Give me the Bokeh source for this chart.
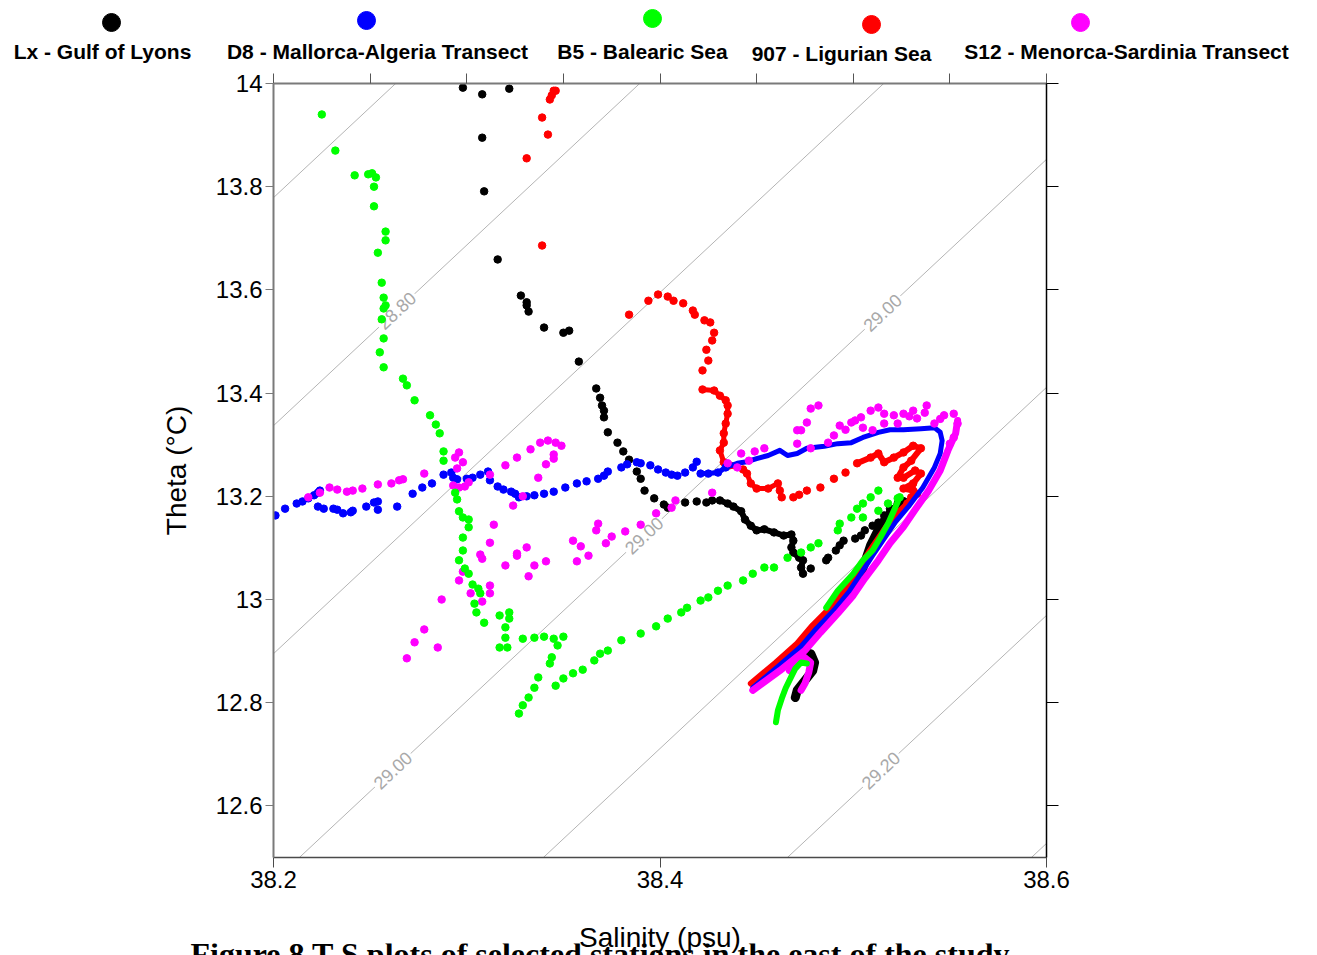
import math
from bokeh.plotting import figure
from bokeh.models import Range1d, LinearAxis, FixedTicker
from bokeh.layouts import column
from bokeh.embed import file_html
from bokeh.resources import INLINE
from bokeh.core.properties import value

FONT = "Liberation Sans"

# ---------------- series names / colours ----------------
series_names = ["Lx - Gulf of Lyons", "D8 - Mallorca-Algeria Transect", "B5 - Balearic Sea",
                "907 - Ligurian Sea", "S12 - Menorca-Sardinia Transect"]
series_colors = ["#000000", "#0000ff", "#00ff00", "#ff0000", "#ff00ff"]

# ---------------- axis ticks ----------------
x_ticks = [38.2, 38.4, 38.6]
x_tick_labels = ["38.2", "38.4", "38.6"]
x_top_ticks = [38.2, 38.25, 38.3, 38.35, 38.4, 38.45, 38.5, 38.55, 38.6]
y_ticks = [12.6, 12.8, 13.0, 13.2, 13.4, 13.6, 13.8, 14.0]
y_tick_labels = ["12.6", "12.8", "13", "13.2", "13.4", "13.6", "13.8", "14"]

# ---------------- isopycnals (linear equation of state fit) ----------------
sigma_levels = [28.7, 28.8, 28.9, 29.0, 29.1, 29.2, 29.3]
SIG_REF, S_REF, T_REF, A_S, A_T = 29.0, 38.642, 14.0, 0.792, 0.2263
iso_label_levels = [28.8, 29.0, 29.0, 29.0, 29.2]
iso_label_theta = [13.56, 13.556, 13.124, 12.669, 12.669]
iso_label_text = ["28.80", "29.00", "29.00", "29.00", "29.20"]

# ---------------- Lx - Gulf of Lyons (black) ----------------
lx_sal = [38.298, 38.308, 38.322, 38.308, 38.309, 38.316, 38.328, 38.331, 38.331, 38.332,
          38.340, 38.350, 38.353, 38.358, 38.367, 38.369, 38.370, 38.371, 38.371, 38.373,
          38.378, 38.381, 38.384, 38.388, 38.390, 38.392, 38.397, 38.402, 38.404, 38.413,
          38.419, 38.424, 38.427, 38.431, 38.435, 38.438, 38.442, 38.444, 38.447, 38.450,
          38.454, 38.459, 38.464, 38.468, 38.469, 38.468, 38.469, 38.472, 38.474, 38.473,
          38.474, 38.478, 38.486, 38.487, 38.491, 38.493, 38.495, 38.501, 38.504, 38.506,
          38.510, 38.513, 38.516, 38.519, 38.523, 38.526]
lx_theta = [13.992, 13.979, 13.990, 13.895, 13.791, 13.659, 13.589, 13.576, 13.570, 13.558,
            13.527, 13.517, 13.521, 13.461, 13.409, 13.391, 13.376, 13.366, 13.353, 13.324,
            13.304, 13.287, 13.271, 13.248, 13.234, 13.211, 13.196, 13.184, 13.178, 13.188,
            13.190, 13.188, 13.192, 13.192, 13.186, 13.180, 13.171, 13.155, 13.143, 13.134,
            13.136, 13.130, 13.124, 13.126, 13.114, 13.101, 13.091, 13.081, 13.076, 13.062,
            13.050, 13.060, 13.076, 13.081, 13.095, 13.105, 13.114, 13.118, 13.124, 13.134,
            13.143, 13.149, 13.163, 13.176, 13.186, 13.190]
lx_lines_sal = [
    [38.431, 38.435, 38.438, 38.442, 38.444, 38.447, 38.450, 38.454, 38.459, 38.464,
     38.468, 38.469, 38.468, 38.469, 38.472, 38.474, 38.473, 38.474],
    [38.526, 38.519, 38.514, 38.509, 38.504, 38.498, 38.490, 38.481, 38.473, 38.471,
     38.478, 38.480, 38.479, 38.475, 38.471, 38.470],
]
lx_lines_theta = [
    [13.192, 13.186, 13.180, 13.171, 13.155, 13.143, 13.134, 13.136, 13.130, 13.124,
     13.126, 13.114, 13.101, 13.091, 13.081, 13.076, 13.062, 13.050],
    [13.190, 13.167, 13.143, 13.105, 13.050, 13.016, 12.979, 12.944, 12.909, 12.897,
     12.895, 12.878, 12.862, 12.843, 12.824, 12.810],
]

# ---------------- 907 - Ligurian Sea (red) ----------------
lig_sal = [38.345, 38.344, 38.343, 38.346, 38.339, 38.342, 38.331, 38.339, 38.384, 38.394,
           38.399, 38.404, 38.407, 38.412, 38.417, 38.418, 38.423, 38.426, 38.428, 38.427,
           38.424, 38.425, 38.422, 38.422, 38.428, 38.431, 38.434, 38.435, 38.435, 38.434,
           38.433, 38.433, 38.431, 38.433, 38.436, 38.443, 38.445, 38.447, 38.450, 38.456,
           38.461, 38.462, 38.463, 38.469, 38.472, 38.476, 38.483, 38.490, 38.496, 38.502,
           38.509, 38.513, 38.516, 38.521, 38.526, 38.531, 38.535, 38.530, 38.526, 38.523,
           38.526, 38.532, 38.535, 38.531, 38.526, 38.531, 38.533, 38.530, 38.528]
lig_theta = [13.986, 13.977, 13.969, 13.986, 13.934, 13.901, 13.855, 13.686, 13.552, 13.579,
             13.591, 13.587, 13.579, 13.574, 13.560, 13.552, 13.541, 13.537, 13.517, 13.502,
             13.484, 13.463, 13.444, 13.407, 13.405, 13.395, 13.386, 13.376, 13.360, 13.341,
             13.322, 13.304, 13.289, 13.266, 13.260, 13.252, 13.244, 13.225, 13.215, 13.215,
             13.225, 13.211, 13.198, 13.198, 13.203, 13.211, 13.217, 13.234, 13.246, 13.264,
             13.275, 13.283, 13.266, 13.275, 13.285, 13.298, 13.293, 13.269, 13.256, 13.236,
             13.236, 13.250, 13.244, 13.225, 13.215, 13.211, 13.205, 13.198, 13.186]
lig_lines_sal = [
    [38.422, 38.428, 38.431, 38.434, 38.435, 38.435, 38.434, 38.433, 38.433, 38.431,
     38.433, 38.436, 38.443, 38.445, 38.447, 38.450, 38.456, 38.461, 38.462, 38.463],
    [38.502, 38.509, 38.513, 38.516, 38.521, 38.526, 38.531, 38.535, 38.530, 38.526,
     38.523, 38.526, 38.532, 38.535, 38.531, 38.526, 38.531, 38.533, 38.530, 38.528,
     38.520, 38.514, 38.508, 38.502, 38.496, 38.488, 38.479, 38.471, 38.460, 38.447],
]
lig_lines_theta = [
    [13.407, 13.405, 13.395, 13.386, 13.376, 13.360, 13.341, 13.322, 13.304, 13.289,
     13.266, 13.260, 13.252, 13.244, 13.225, 13.215, 13.215, 13.225, 13.211, 13.198],
    [13.264, 13.275, 13.283, 13.266, 13.275, 13.285, 13.298, 13.293, 13.269, 13.256,
     13.236, 13.236, 13.250, 13.244, 13.225, 13.215, 13.211, 13.205, 13.198, 13.186,
     13.157, 13.124, 13.091, 13.056, 13.021, 12.984, 12.950, 12.915, 12.878, 12.837],
]

# ---------------- D8 - Mallorca-Algeria Transect (blue) ----------------
d8_sal = [38.201, 38.206, 38.212, 38.215, 38.218, 38.221, 38.223, 38.224, 38.223, 38.226,
          38.231, 38.233, 38.236, 38.240, 38.241, 38.248, 38.252, 38.254, 38.254, 38.264,
          38.272, 38.277, 38.282, 38.288, 38.292, 38.293, 38.295, 38.300, 38.303, 38.307,
          38.311, 38.312, 38.316, 38.319, 38.323, 38.325, 38.327, 38.331, 38.335, 38.340,
          38.345, 38.351, 38.357, 38.362, 38.368, 38.371, 38.373, 38.380, 38.383, 38.388,
          38.390, 38.395, 38.399, 38.403, 38.406, 38.409, 38.413, 38.417, 38.419, 38.421,
          38.425, 38.430, 38.434]
d8_theta = [13.163, 13.176, 13.186, 13.190, 13.196, 13.202, 13.207, 13.211, 13.180, 13.176,
            13.176, 13.174, 13.167, 13.169, 13.172, 13.180, 13.188, 13.190, 13.174, 13.180,
            13.205, 13.217, 13.225, 13.242, 13.246, 13.236, 13.233, 13.234, 13.236, 13.242,
            13.248, 13.231, 13.219, 13.213, 13.209, 13.205, 13.198, 13.200, 13.202, 13.205,
            13.209, 13.217, 13.225, 13.229, 13.234, 13.240, 13.248, 13.256, 13.262, 13.266,
            13.264, 13.260, 13.252, 13.246, 13.242, 13.240, 13.246, 13.256, 13.267, 13.244,
            13.244, 13.246, 13.256]
d8_lines_sal = [
    [38.421, 38.425, 38.430, 38.434, 38.440, 38.445, 38.450, 38.456, 38.462, 38.466,
     38.471, 38.476, 38.485, 38.492, 38.499, 38.505, 38.513, 38.519, 38.526, 38.535,
     38.542, 38.545, 38.546, 38.545, 38.542, 38.536, 38.529, 38.522, 38.516, 38.510,
     38.504, 38.498, 38.490, 38.481, 38.473, 38.461, 38.448],
]
d8_lines_theta = [
    [13.244, 13.244, 13.246, 13.256, 13.264, 13.267, 13.273, 13.279, 13.289, 13.279,
     13.283, 13.293, 13.297, 13.302, 13.304, 13.314, 13.324, 13.329, 13.329, 13.331,
     13.333, 13.324, 13.308, 13.283, 13.256, 13.217, 13.182, 13.151, 13.118, 13.085,
     13.050, 13.016, 12.979, 12.944, 12.909, 12.870, 12.829],
]

# ---------------- B5 - Balearic Sea (green) ----------------
b5_sal = [38.225, 38.232, 38.242, 38.249, 38.251, 38.253, 38.252, 38.252, 38.258, 38.258,
          38.254, 38.256, 38.257, 38.258, 38.257, 38.256, 38.257, 38.255, 38.257, 38.267,
          38.269, 38.273, 38.281, 38.284, 38.286, 38.288, 38.288, 38.294, 38.295, 38.296,
          38.298, 38.301, 38.301, 38.298, 38.298, 38.296, 38.299, 38.301, 38.303, 38.306,
          38.307, 38.304, 38.305, 38.309, 38.317, 38.322, 38.322, 38.320, 38.320, 38.317,
          38.321, 38.329, 38.335, 38.340, 38.345, 38.350, 38.347, 38.344, 38.343, 38.337,
          38.335, 38.332, 38.329, 38.327, 38.346, 38.350, 38.355, 38.360, 38.366, 38.369,
          38.373, 38.380, 38.390, 38.398, 38.404, 38.411, 38.414, 38.421, 38.425, 38.430,
          38.435, 38.443, 38.448, 38.454, 38.459, 38.466, 38.473, 38.478, 38.482, 38.492,
          38.493, 38.499, 38.502, 38.505, 38.509, 38.513, 38.505, 38.513, 38.518, 38.523,
          38.524]
b5_theta = [13.940, 13.870, 13.822, 13.824, 13.826, 13.818, 13.800, 13.762, 13.713, 13.696,
            13.672, 13.614, 13.585, 13.570, 13.564, 13.543, 13.506, 13.479, 13.450, 13.428,
            13.415, 13.386, 13.357, 13.339, 13.322, 13.287, 13.269, 13.207, 13.194, 13.171,
            13.159, 13.155, 13.140, 13.120, 13.095, 13.076, 13.060, 13.050, 13.029, 13.021,
            13.012, 12.992, 12.975, 12.955, 12.969, 12.975, 12.963, 12.946, 12.926, 12.907,
            12.907, 12.924, 12.926, 12.928, 12.924, 12.928, 12.911, 12.888, 12.876, 12.849,
            12.829, 12.810, 12.795, 12.779, 12.833, 12.847, 12.857, 12.864, 12.882, 12.895,
            12.901, 12.921, 12.934, 12.948, 12.963, 12.975, 12.984, 12.998, 13.004, 13.017,
            13.027, 13.037, 13.050, 13.062, 13.062, 13.081, 13.091, 13.101, 13.109, 13.134,
            13.147, 13.159, 13.176, 13.186, 13.198, 13.211, 13.159, 13.172, 13.186, 13.196,
            13.198]
b5_lines_sal = [
    [38.524, 38.521, 38.518, 38.514, 38.510, 38.505, 38.500, 38.492, 38.486],
    [38.476, 38.473, 38.470, 38.468, 38.465, 38.463, 38.461, 38.460],
]
b5_lines_theta = [
    [13.198, 13.172, 13.147, 13.120, 13.095, 13.076, 13.050, 13.017, 12.984],
    [12.876, 12.878, 12.866, 12.851, 12.828, 12.808, 12.785, 12.762],
]

# ---------------- S12 - Menorca-Sardinia Transect (magenta) ----------------
s12_sal = [38.218, 38.224, 38.229, 38.233, 38.238, 38.241, 38.246, 38.254, 38.261, 38.265,
           38.267, 38.278, 38.294, 38.296, 38.298, 38.295, 38.293, 38.296, 38.299, 38.301,
           38.312, 38.320, 38.326, 38.333, 38.338, 38.342, 38.346, 38.349, 38.345, 38.345,
           38.341, 38.337, 38.329, 38.324, 38.314, 38.312, 38.307, 38.308, 38.298, 38.296,
           38.302, 38.308, 38.312, 38.312, 38.287, 38.278, 38.273, 38.285, 38.269, 38.326,
           38.326, 38.320, 38.331, 38.335, 38.332, 38.341, 38.355, 38.359, 38.363, 38.357,
           38.367, 38.368, 38.372, 38.375, 38.382, 38.390, 38.398, 38.406, 38.408, 38.427,
           38.435, 38.440, 38.442, 38.446, 38.449, 38.454, 38.471, 38.471, 38.476, 38.478,
           38.482, 38.473, 38.478, 38.487, 38.490, 38.496, 38.499, 38.504, 38.509, 38.513,
           38.516, 38.521, 38.526, 38.531, 38.538, 38.547, 38.552, 38.554, 38.552, 38.550,
           38.505, 38.510, 38.516, 38.523, 38.533, 38.542, 38.493, 38.501, 38.529, 38.537,
           38.545]
s12_theta = [13.198, 13.207, 13.217, 13.213, 13.209, 13.211, 13.215, 13.223, 13.225, 13.231,
             13.233, 13.244, 13.275, 13.285, 13.266, 13.254, 13.221, 13.217, 13.219, 13.227,
             13.242, 13.260, 13.275, 13.291, 13.304, 13.308, 13.304, 13.298, 13.281, 13.273,
             13.262, 13.236, 13.200, 13.182, 13.145, 13.110, 13.087, 13.079, 13.054, 13.037,
             13.012, 12.996, 13.012, 13.027, 13.000, 12.942, 12.917, 12.907, 12.886, 13.089,
             13.085, 13.066, 13.101, 13.066, 13.045, 13.074, 13.114, 13.103, 13.085, 13.074,
             13.134, 13.147, 13.109, 13.122, 13.132, 13.145, 13.167, 13.178, 13.192, 13.207,
             13.264, 13.256, 13.283, 13.269, 13.287, 13.293, 13.328, 13.302, 13.343, 13.370,
             13.376, 13.328, 13.293, 13.304, 13.318, 13.329, 13.343, 13.353, 13.366, 13.372,
             13.360, 13.357, 13.360, 13.366, 13.376, 13.357, 13.360, 13.341, 13.314, 13.302,
             13.333, 13.328, 13.341, 13.341, 13.351, 13.341, 13.337, 13.347, 13.355, 13.362,
             13.350]
s12_lines_sal = [
    [38.554, 38.553, 38.549, 38.545, 38.539, 38.532, 38.526, 38.519, 38.513, 38.506,
     38.500, 38.492, 38.483, 38.475, 38.462, 38.448],
    [38.467, 38.470, 38.474, 38.478, 38.477, 38.475, 38.473],
]
s12_lines_theta = [
    [13.347, 13.322, 13.289, 13.250, 13.211, 13.174, 13.141, 13.109, 13.076, 13.041,
     13.008, 12.973, 12.936, 12.901, 12.862, 12.824],
    [12.862, 12.882, 12.890, 12.878, 12.859, 12.837, 12.824],
]

CAPTION = "Figure 8 T-S plots of selected stations in the east of the study"

# ======================= legend strip =======================
W = 1301
LEG_H = 68
leg = figure(width=W, height=LEG_H, x_range=Range1d(0, W), y_range=Range1d(LEG_H, 0),
             toolbar_location=None, output_backend="svg", min_border=0)
leg.frame_align = False
leg.xaxis.visible = False
leg.yaxis.visible = False
leg.grid.visible = False
leg.outline_line_color = None
leg_marker_x = [111, 366, 652, 871, 1080]
leg_marker_y = [22, 20, 18, 24, 22]
leg_label_x = [102, 377, 642, 841, 1126]
leg_label_y = [51, 51, 51, 53, 51]
leg.scatter(leg_marker_x, leg_marker_y, marker="circle", size=18,
            fill_color=series_colors, line_color=series_colors)
leg.text(leg_label_x, leg_label_y, text=series_names, text_font=value(FONT),
         text_font_style="bold", text_font_size="21px", text_align="center",
         text_baseline="middle", text_color="#000000")

# ======================= main plot =======================
p = figure(width=W, height=887, x_range=Range1d(38.2, 38.6), y_range=Range1d(12.5, 14.0),
           toolbar_location=None, output_backend="svg",
           x_axis_location=None, y_axis_location=None,
           min_border_left=273, min_border_right=255, min_border_top=15, min_border_bottom=98)
p.frame_align = False
p.grid.visible = False
p.outline_line_color = None

# isopycnals
iso_T = [12.2, 14.3]
for lev in sigma_levels:
    xs = [S_REF + (lev - SIG_REF + A_T * (t - T_REF)) / A_S for t in iso_T]
    p.line(xs, iso_T, line_color="#b4b4b4", line_width=1)

lab_S = [S_REF + (lev - SIG_REF + A_T * (t - T_REF)) / A_S
         for lev, t in zip(iso_label_levels, iso_label_theta)]
p.text(lab_S, iso_label_theta, text=iso_label_text, angle=0.75,
       text_font=value(FONT), text_font_size="18px", text_color="#a8a8a8",
       text_align="center", text_baseline="middle",
       background_fill_color="white", padding=2)

series = [
    (lx_sal, lx_theta, lx_lines_sal, lx_lines_theta, "#000000", [6, 9]),
    (lig_sal, lig_theta, lig_lines_sal, lig_lines_theta, "#ff0000", [5, 6]),
    (d8_sal, d8_theta, d8_lines_sal, d8_lines_theta, "#0000ff", [5]),
    (s12_sal, s12_theta, s12_lines_sal, s12_lines_theta, "#ff00ff", [7, 7]),
    (b5_sal, b5_theta, b5_lines_sal, b5_lines_theta, "#00ff00", [6, 6]),
]
for sal, th, lsal, lth, col, widths in series:
    assert len(sal) == len(th)
    for xs, ys, w in zip(lsal, lth, widths):
        assert len(xs) == len(ys)
        p.line(xs, ys, line_color=col, line_width=w, line_join="round", line_cap="round")
    p.scatter(sal, th, marker="circle", size=7.5, fill_color=col, line_color=col)

# axes
left = LinearAxis(ticker=FixedTicker(ticks=y_ticks),
                  major_label_overrides=dict(zip(y_ticks, y_tick_labels)),
                  axis_label="Theta (°C)")
left.axis_line_color = "#7a7a7a"
left.axis_line_width = 2
left.major_tick_line_color = "#7a7a7a"
left.major_tick_out = 8
left.major_tick_in = 0
left.minor_tick_line_color = None
left.major_label_standoff = 3
left.major_label_text_font = FONT
left.major_label_text_font_size = "24px"
left.major_label_text_color = "#000000"
left.axis_label_text_font = FONT
left.axis_label_text_font_size = "28px"
left.axis_label_text_font_style = "normal"
left.axis_label_text_color = "#000000"
left.axis_label_standoff = 21
p.add_layout(left, "left")

bottom = LinearAxis(ticker=FixedTicker(ticks=x_ticks),
                    major_label_overrides=dict(zip(x_ticks, x_tick_labels)),
                    axis_label="Salinity (psu)")
bottom.axis_line_color = "#4a4a4a"
bottom.axis_line_width = 1.5
bottom.major_tick_line_color = "#4a4a4a"
bottom.major_tick_out = 10
bottom.major_tick_in = 0
bottom.minor_tick_line_color = None
bottom.major_label_standoff = 3
bottom.major_label_text_font = FONT
bottom.major_label_text_font_size = "24px"
bottom.major_label_text_color = "#000000"
bottom.axis_label_text_font = FONT
bottom.axis_label_text_font_size = "28px"
bottom.axis_label_text_font_style = "normal"
bottom.axis_label_text_color = "#000000"
bottom.axis_label_standoff = 31
p.add_layout(bottom, "below")

top = LinearAxis(ticker=FixedTicker(ticks=x_top_ticks))
top.axis_line_color = "#7a7a7a"
top.axis_line_width = 2
top.major_tick_line_color = "#555555"
top.major_tick_out = 10
top.major_tick_in = 0
top.minor_tick_line_color = None
top.major_label_text_font_size = "1px"
top.major_label_text_color = None
top.major_label_standoff = 0
p.add_layout(top, "above")

right = LinearAxis(ticker=FixedTicker(ticks=y_ticks))
right.axis_line_color = "#000000"
right.axis_line_width = 1.5
right.major_tick_line_color = "#000000"
right.major_tick_out = 12
right.major_tick_in = 0
right.minor_tick_line_color = None
right.major_label_text_font_size = "1px"
right.major_label_text_color = None
right.major_label_standoff = 0
p.add_layout(right, "right")

# ======================= caption strip (overlaid at the window's bottom edge) =======================
CAP_H = 12
cap = figure(width=W, height=CAP_H, x_range=Range1d(0, W), y_range=Range1d(CAP_H, 0),
             toolbar_location=None, output_backend="svg", min_border=0,
             styles={"position": "absolute", "top": "943px", "left": "0px"})
cap.frame_align = False
cap.xaxis.visible = False
cap.yaxis.visible = False
cap.grid.visible = False
cap.outline_line_color = None
cap.background_fill_color = None
cap.border_fill_color = None
cap.text([190], [10], text=[CAPTION], text_font=value("Liberation Serif"),
         text_font_style="bold", text_font_size="32px", text_align="left",
         text_baseline="middle", text_color="#000000")

layout = column(leg, p, cap, spacing=0)
open("out.html", "w").write(file_html(layout, INLINE))
